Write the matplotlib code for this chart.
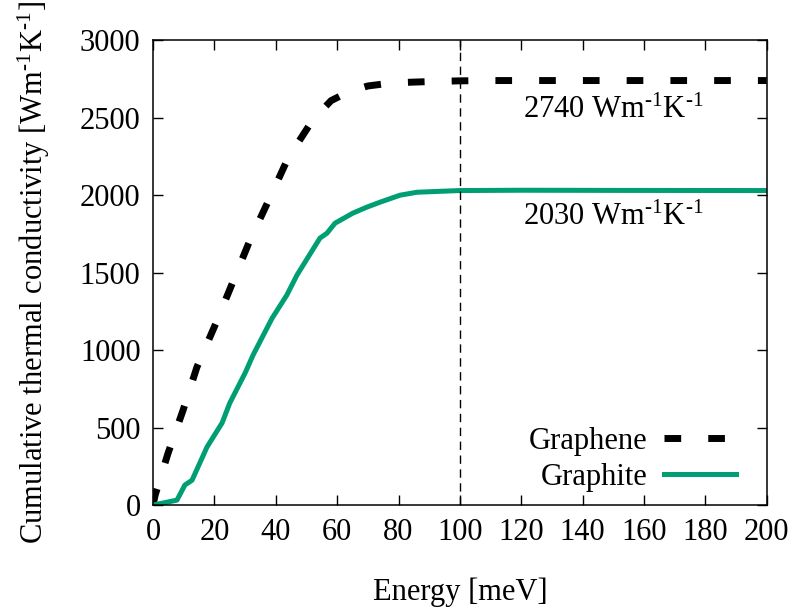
import matplotlib
matplotlib.use("Agg")
import matplotlib.pyplot as plt

# =========================
# DATA
# =========================
graphene_energy = [0, 0.7, 4.9, 9.8, 14.3, 20.5, 26, 31.6, 38, 44, 52, 58, 63.5, 70, 78, 85, 93, 100, 110, 130, 150, 170, 200]
graphene_kappa = [0, 65, 335, 613, 890, 1174, 1439, 1710, 1980, 2239, 2484, 2610, 2665, 2705, 2725, 2730, 2735, 2738, 2740, 2740, 2740, 2740, 2740]

graphite_energy = [0, 7.8, 10.4, 12.7, 17.6, 22.5, 25, 30, 32.6, 38.8, 43.6, 46.9, 54.4, 56.7, 59.3, 65.1, 69.7, 74, 80.5, 86, 93.5, 100, 120, 150, 200]
graphite_kappa = [0, 32, 130, 160, 375, 530, 658, 852, 968, 1206, 1355, 1484, 1723, 1755, 1819, 1884, 1923, 1955, 2000, 2019, 2025, 2030, 2032, 2031, 2030]

labels = ["Graphene", "Graphite"]
unit = r"Wm$^{\text{-1}}$K$^{\text{-1}}$"
annotations = [(120.5, 2550, "2740 " + unit), (120.5, 1855, "2030 " + unit)]
vline_x = 100

# =========================
# STYLE
# =========================
plt.rcParams["font.family"] = ["Liberation Serif", "DejaVu Serif"]
plt.rcParams["mathtext.fontset"] = "custom"
plt.rcParams["mathtext.rm"] = "Liberation Serif"
plt.rcParams["mathtext.it"] = "Liberation Serif:italic"
plt.rcParams["font.size"] = 22

fig = plt.figure(figsize=(7.97, 6.10), dpi=100)
ax = fig.add_axes([0.192, 0.172, 0.770, 0.762])

ax.plot(graphene_energy, graphene_kappa, color="black", lw=5, ls=(0, (2.4, 3.9)),
        dash_capstyle="butt", label=labels[0])
ax.plot(graphite_energy, graphite_kappa, color="#009e73", lw=3.6, label=labels[1])
ax.axvline(vline_x, color="black", lw=1, ls=(0, (6, 4)))

for x, y, txt in annotations:
    ax.text(x, y, txt, ha="left", va="center")

ax.set_xlim(0, 200)
ax.set_ylim(0, 3000)
ax.set_xticks(range(0, 201, 20))
ax.set_yticks(range(0, 3001, 500))
ax.tick_params(direction="in", length=7, width=1, top=True, right=True, pad=9)
for s in ax.spines.values():
    s.set_linewidth(1.1)

ax.set_xlabel("Energy [meV]", labelpad=22)
ax.set_ylabel("Cumulative thermal conductivity [" + unit + "]", labelpad=20)

ax.legend(loc="lower right", frameon=False, markerfirst=False, handlelength=2.35,
          handletextpad=0.55, labelspacing=0.22, bbox_to_anchor=(0.995, -0.03))

plt.savefig("out.png", dpi=100)
plt.close()
